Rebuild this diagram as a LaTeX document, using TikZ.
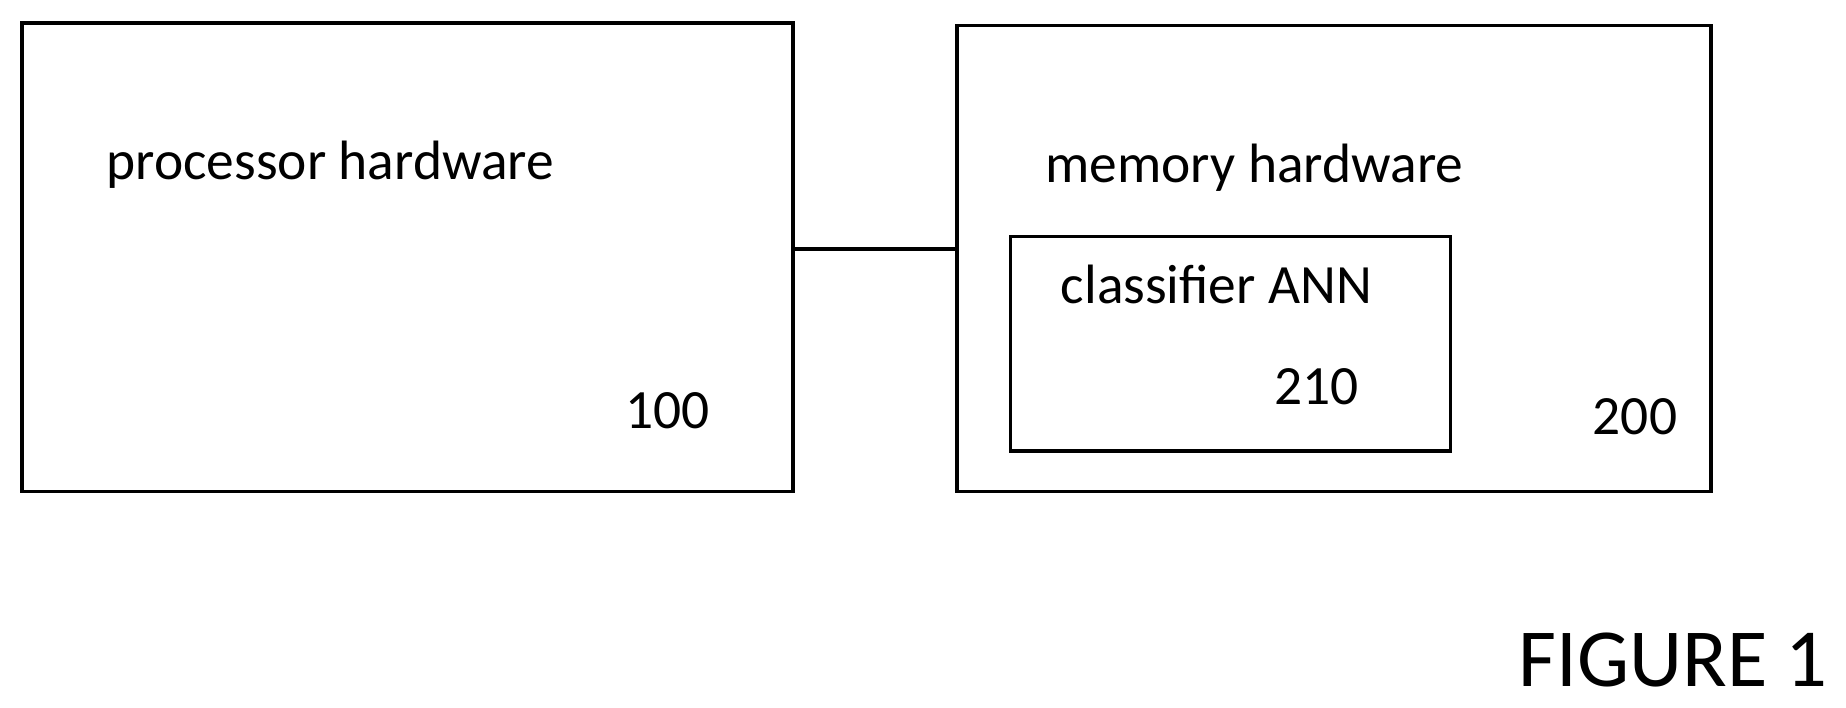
\documentclass[tikz,border=0pt]{standalone}
\usepackage{fontspec}
\setmainfont{Carlito}
\begin{document}
\begin{tikzpicture}[x=0.5pt,y=-0.5pt,
  box/.style={draw,line width=1.5pt,inner sep=0,rectangle},
  lbl/.style={font=\fontsize{23.5}{27}\selectfont,inner sep=0},
  ]
\useasboundingbox (0,0) rectangle (1565,600);
\node[box,minimum width=327pt,minimum height=198.5pt,anchor=north west] (p) at (17,18) {};
\node[box,minimum width=319.5pt,minimum height=197.5pt,anchor=north west] (m) at (810,20) {};
\node[box,minimum width=186.5pt,minimum height=91pt,anchor=north west] (c) at (855,199) {};
\coordinate (pc) at (673,211);
\coordinate (mc) at (810,211);
\draw[line width=1.5pt] (pc) -- (mc);
\node[lbl,anchor=base west] (t1) at (90,152) {processor hardware};
\node[lbl,anchor=base east] (t2) at (602,363) {100};
\node[lbl,anchor=base west] (t3) at (886,155) {memory hardware};
\node[lbl,anchor=base west] (t4) at (899,257) {classifier ANN};
\node[lbl,anchor=base west] (t5) at (1080,343) {210};
\node[lbl,anchor=base west] (t6) at (1350,368) {200};
\node[inner sep=0,anchor=base east,font=\fontsize{35}{40}\selectfont] (f) at (1550,582) {FIGURE 1};
\end{tikzpicture}
\end{document}
